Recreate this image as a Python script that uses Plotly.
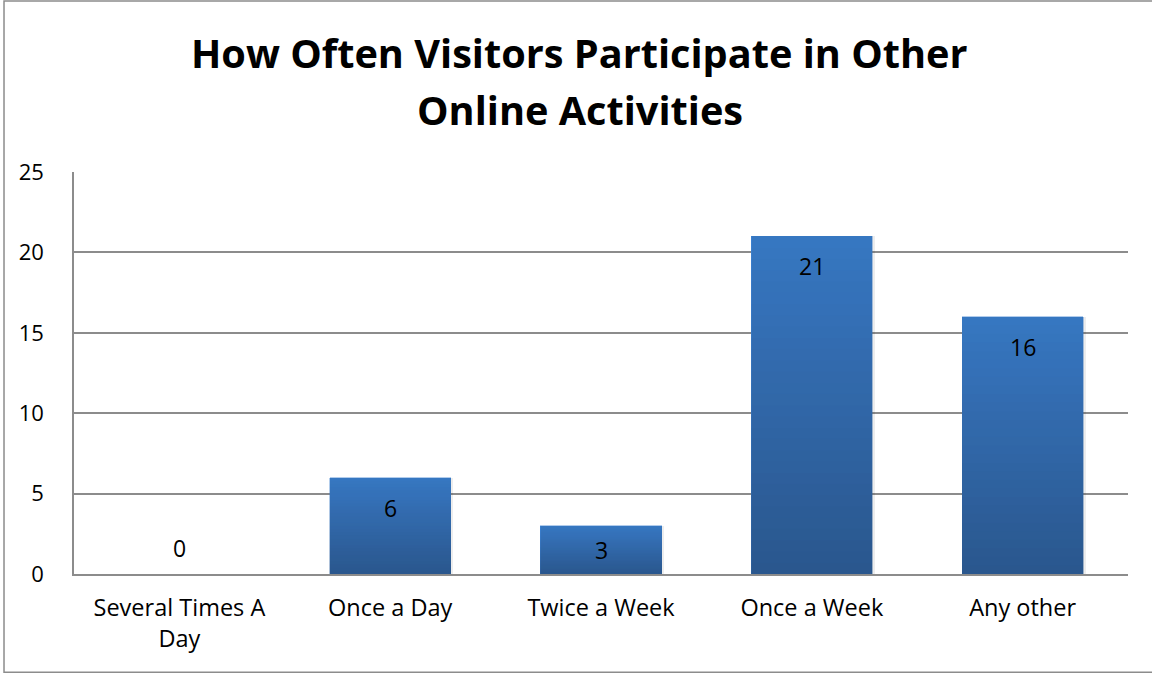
import plotly.graph_objects as go

categories = ["Several Times A<br>Day", "Once a Day", "Twice a Week", "Once a Week", "Any other"]
values = [0, 6, 3, 21, 16]
y_ticks = [0, 5, 10, 15, 20, 25]
title_lines = ["How Often Visitors Participate in Other", "Online Activities"]

FONT = "'Open Sans', sans-serif"
top_rgb = (0x3B, 0x80, 0xD0)
bot_rgb = (0x2E, 0x5E, 0x99)
N = 30

fig = go.Figure()

# soft shadow
fig.add_trace(go.Bar(x=categories, y=values, marker=dict(color="rgba(0,0,0,0.07)", line=dict(width=0)),
                     width=0.585, offset=-0.2855, hoverinfo="skip", showlegend=False, xaxis="x2", yaxis="y"))

for i in range(N):
    t = i / (N - 1)
    c = tuple(round(b + (a - b) * t) for a, b in zip(top_rgb, bot_rgb))
    fig.add_trace(go.Bar(
        x=categories, y=[v / N for v in values],
        marker=dict(color="rgb(%d,%d,%d)" % c, line=dict(width=0.4, color="rgb(%d,%d,%d)" % c)),
        width=0.575, hoverinfo="skip", showlegend=False,
    ))

# value labels
for cat, v in zip(categories, values):
    if v >= 5:
        y, ys = v, -30
    elif v > 0:
        y, ys = v / 2, 0
    else:
        y, ys = 0, 26
    fig.add_annotation(x=cat, y=y, yshift=ys, text=str(v), showarrow=False,
                       font=dict(family=FONT, size=23, color="black"), yanchor="middle")

for line, ypos in zip(title_lines, [1.296, 1.154]):
    fig.add_annotation(xref="paper", yref="paper", x=0.48, y=ypos, text="<b>%s</b>" % line, showarrow=False,
                       font=dict(family=FONT, size=39.7, color="black"), yanchor="middle", xanchor="center")

# chart border (right edge falls just outside the canvas, as in the reference)
fig.add_shape(type="rect", xref="paper", yref="paper", x0=-0.0664, x1=1.03, y0=-0.2445, y1=1.4254,
              line=dict(color="#8C8C8C", width=1.5), layer="below")

fig.update_layout(
    width=1152, height=673,
    margin=dict(l=74, r=24, t=172, b=99),
    paper_bgcolor="white", plot_bgcolor="white",
    barmode="stack", bargap=0.425,
    showlegend=False,
    font=dict(family=FONT, size=20, color="black"),
    xaxis=dict(showgrid=False, showline=True, linecolor="#8C8C8C", linewidth=1.5, ticks="",
               tickfont=dict(size=23.5, color="black"), ticklabelstandoff=12),
    xaxis2=dict(overlaying="x", visible=False, matches="x"),
    yaxis=dict(range=[0, 25], tickvals=y_ticks, showgrid=True, gridcolor="#8C8C8C", gridwidth=1.5,
               showline=True, linecolor="#8C8C8C", linewidth=1.5, ticks="", zeroline=False,
               tickfont=dict(size=22, color="black"), ticklabelstandoff=24),
)

fig.write_html("out.html", config={"displayModeBar": False},
               post_script="document.body.style.margin='0';document.body.style.overflow='hidden';")
